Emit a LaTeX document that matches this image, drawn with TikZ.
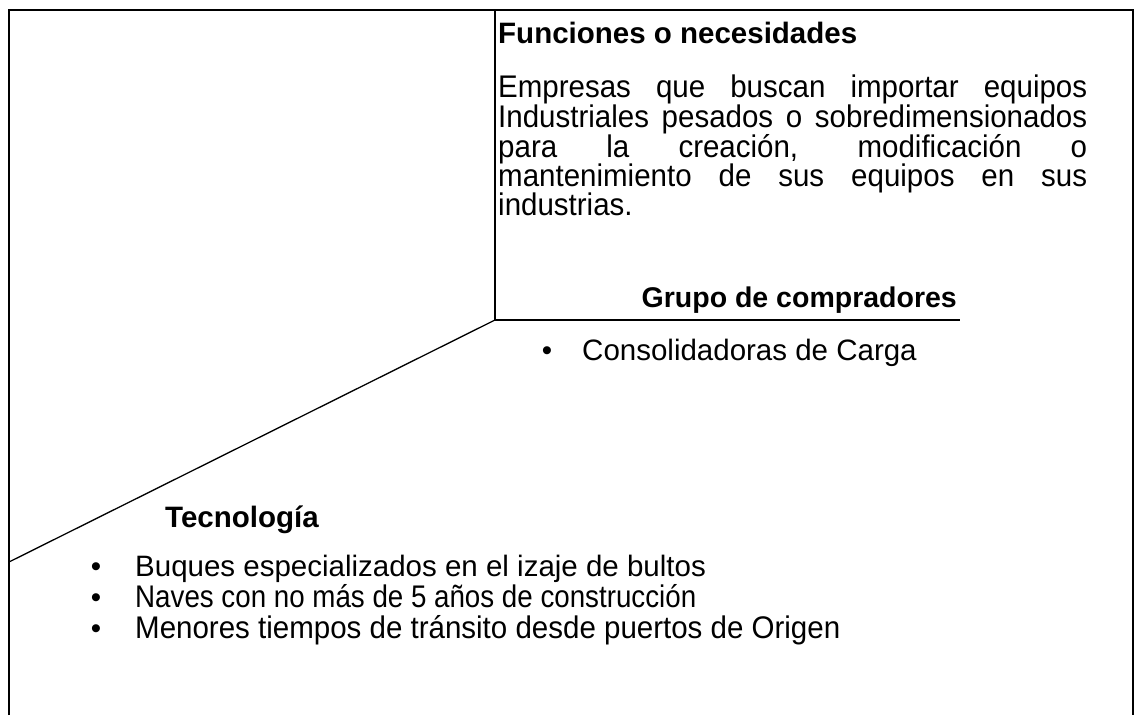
\documentclass[tikz,border=0pt]{standalone}
\usepackage{fontspec}
\setmainfont{Liberation Sans}
\newcommand{\tallA}[1]{\scalebox{1}[1.06]{#1}}
\newcommand{\narrA}[1]{\scalebox{0.94}[1.06]{#1}}
\begin{document}
\begin{tikzpicture}[x=1pt,y=-1pt,
  frame/.style={line width=2pt,black},
  thin/.style={line width=1.3pt,black},
  txt/.style={inner sep=0pt,anchor=base west,font=\fontsize{29.5}{30}\selectfont},
  head/.style={txt,font=\fontsize{29.5}{30}\selectfont\bfseries},
  bul/.style={inner sep=0pt,anchor=base,font=\fontsize{29.5}{30}\selectfont}]
\useasboundingbox (0,0) rectangle (1134,715);
% frame
\coordinate (tl) at (9,10);
\coordinate (tr) at (1133,10);
\coordinate (bl) at (9,715);
\coordinate (br) at (1133,715);
\coordinate (vt) at (495,10);
\coordinate (vb) at (495,320);
\coordinate (he) at (960,320);
\coordinate (dl) at (9,562);
\draw[frame] (bl) -- (tl) -- (tr) -- (br);
\draw[frame] (vt) -- (vb) -- (he);
\draw[thin] (vb) -- (dl);
% Funciones
\node[head] (fh) at (498,43) {Funciones o necesidades};
\node[txt] (p1) at (498,97) {\tallA{\makebox[589pt][s]{Empresas que buscan importar equipos}}};
\node[txt] (p2) at (498,127) {\tallA{\makebox[589pt][s]{Industriales pesados o sobredimensionados}}};
\node[txt] (p3) at (498,157) {\tallA{\makebox[589pt][s]{para la creación, modificación o}}};
\node[txt] (p4) at (498,186) {\tallA{\makebox[589pt][s]{mantenimiento de sus equipos en sus}}};
\node[txt] (p5) at (498,215) {\tallA{industrias.}};
% Grupo
\node[head,anchor=base east,font=\fontsize{28.5}{30}\selectfont\bfseries] (gh) at (957,307) {Grupo de compradores};
\node[bul] (gb) at (547,360) {•};
\node[txt] (g1) at (582,360) {Consolidadoras de Carga};
% Tecnologia
\node[head] (th) at (165,527) {Tecnología};
\node[bul] (b1) at (96,576) {•};
\node[txt] (t1) at (135,576) {Buques especializados en el izaje de bultos};
\node[bul] (b2) at (96,607) {•};
\node[txt] (t2) at (135,607) {\narrA{Naves con no más de 5 años de construcción}};
\node[bul] (b3) at (96,638) {•};
\node[txt] (t3) at (135,638) {\tallA{Menores tiempos de tránsito desde puertos de Origen}};
\end{tikzpicture}
\end{document}
